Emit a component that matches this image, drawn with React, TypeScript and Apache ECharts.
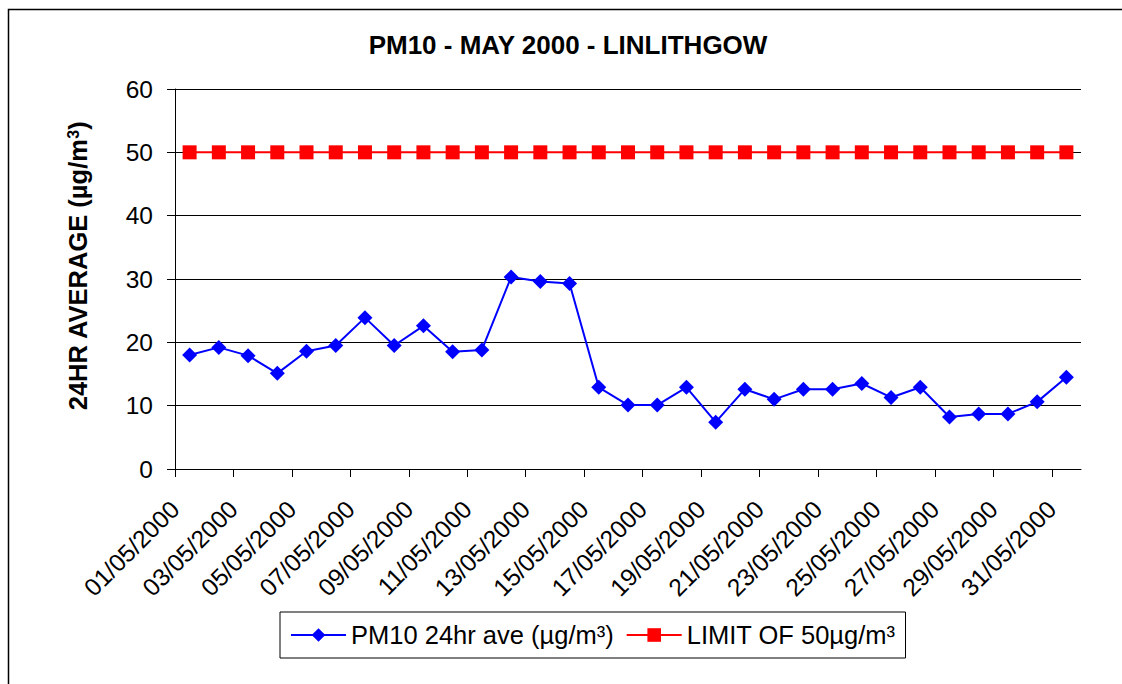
import React, { useEffect, useRef } from 'react';
import * as echarts from 'echarts';

const dates = [
  '01/05/2000', '02/05/2000', '03/05/2000', '04/05/2000', '05/05/2000', '06/05/2000',
  '07/05/2000', '08/05/2000', '09/05/2000', '10/05/2000', '11/05/2000', '12/05/2000',
  '13/05/2000', '14/05/2000', '15/05/2000', '16/05/2000', '17/05/2000', '18/05/2000',
  '19/05/2000', '20/05/2000', '21/05/2000', '22/05/2000', '23/05/2000', '24/05/2000',
  '25/05/2000', '26/05/2000', '27/05/2000', '28/05/2000', '29/05/2000', '30/05/2000',
  '31/05/2000',
];

const pm10 = [
  18.0, 19.2, 17.9, 15.1, 18.6, 19.5, 23.9, 19.5, 22.6, 18.5, 18.8, 30.3, 29.6,
  29.3, 12.9, 10.1, 10.1, 12.9, 7.4, 12.6, 11.0, 12.6, 12.6, 13.5, 11.3, 12.9,
  8.2, 8.7, 8.7, 10.6, 14.5,
];

const limit = [
  50, 50, 50, 50, 50, 50, 50, 50, 50, 50, 50, 50, 50, 50, 50, 50,
  50, 50, 50, 50, 50, 50, 50, 50, 50, 50, 50, 50, 50, 50, 50,
];

// day offsets (from 01/05) where ticks and labels sit
const labelDays = [0, 2, 4, 6, 8, 10, 12, 14, 16, 18, 20, 22, 24, 26, 28, 30];

const yMin = 0;
const yMax = 60;
const yStep = 10;

const seriesNames = ['PM10 24hr ave (µg/m³)', 'LIMIT OF 50µg/m³'];
const titleText = 'PM10 - MAY 2000 - LINLITHGOW';

const FONT = '"Liberation Sans", Arial, Helvetica, sans-serif';

export default function App() {
  const ref = useRef<HTMLDivElement>(null);

  useEffect(() => {
    if (!ref.current) return;
    const chart = echarts.init(ref.current, undefined, { renderer: 'svg' });
    const option: any = {
      animation: false,
      backgroundColor: '#ffffff',
      textStyle: { fontFamily: FONT },
      grid: { left: 175, top: 89, right: 41, bottom: 215, containLabel: false },
      xAxis: {
        type: 'value',
        min: 0,
        max: dates.length,
        interval: 2,
        axisLine: { show: true, onZero: false, lineStyle: { color: '#000', width: 1 } },
        axisTick: {
          show: true,
          length: 8,
          customValues: labelDays,
          lineStyle: { color: '#000', width: 1 },
        },
        axisLabel: {
          customValues: labelDays,
          rotate: 45,
          margin: 36,
          fontSize: 24.5,
          color: '#000',
          fontFamily: FONT,
          formatter: (v: number) => dates[Math.round(v)] ?? '',
        },
        splitLine: { show: false },
      },
      yAxis: {
        type: 'value',
        min: yMin,
        max: yMax,
        interval: yStep,
        axisLine: { show: true, lineStyle: { color: '#000', width: 1 } },
        axisTick: { show: true, length: 8, lineStyle: { color: '#000', width: 1 } },
        axisLabel: { margin: 22, fontSize: 24.5, color: '#000', fontFamily: FONT },
        splitLine: { show: true, lineStyle: { color: '#000', width: 1 } },
      },
      legend: {
        left: 280,
        top: 612,
        orient: 'horizontal',
        padding: [10, 10, 10, 10],
        itemGap: 12,
        itemWidth: 55,
        itemHeight: 17,
        borderColor: '#000',
        borderWidth: 1,
        backgroundColor: '#fff',
        textStyle: { fontSize: 25.5, color: '#000', fontFamily: FONT },
        data: seriesNames,
      },
      series: [
        {
          name: seriesNames[0],
          type: 'line',
          data: pm10.map((v, i) => [i + 0.5, v]),
          symbol: 'diamond',
          symbolSize: 15,
          lineStyle: { color: '#0000ff', width: 2 },
          itemStyle: { color: '#0000ff' },
          z: 3,
        },
        {
          name: seriesNames[1],
          type: 'line',
          data: limit.map((v, i) => [i + 0.5, v]),
          symbol: 'rect',
          symbolSize: 14,
          lineStyle: { color: '#ff0000', width: 2 },
          itemStyle: { color: '#ff0000' },
          z: 2,
        },
      ],
      graphic: [
        {
          type: 'rect',
          silent: true,
          shape: { x: 8.5, y: 9.5, width: 1300, height: 900 },
          style: { fill: 'none', stroke: '#000', lineWidth: 1.5 },
        },
        {
          type: 'text',
          silent: true,
          x: 568,
          y: 45,
          style: {
            text: titleText,
            fontSize: 26,
            fontWeight: 'bold',
            fontFamily: FONT,
            fill: '#000',
            align: 'center',
            verticalAlign: 'middle',
            textAlign: 'center',
            textVerticalAlign: 'middle',
          },
        },
        {
          type: 'text',
          silent: true,
          x: 78,
          y: 266,
          rotation: Math.PI / 2,
          style: {
            text: '24HR AVERAGE (µg/m{sup|3})',
            fontSize: 25.5,
            fontWeight: 'bold',
            fontFamily: FONT,
            fill: '#000',
            align: 'center',
            verticalAlign: 'middle',
            textAlign: 'center',
            textVerticalAlign: 'middle',
            rich: {
              sup: {
                fontSize: 16,
                fontWeight: 'bold',
                fontFamily: FONT,
                fill: '#000',
                verticalAlign: 'top',
              },
            },
          },
        },
      ],
    };
    chart.setOption(option);
    return () => {
      chart.dispose();
    };
  }, []);

  return (
    <div
      ref={ref}
      style={{
        position: 'absolute',
        left: 0,
        top: 0,
        width: 1122,
        height: 684,
        overflow: 'hidden',
        background: '#fff',
      }}
    />
  );
}
